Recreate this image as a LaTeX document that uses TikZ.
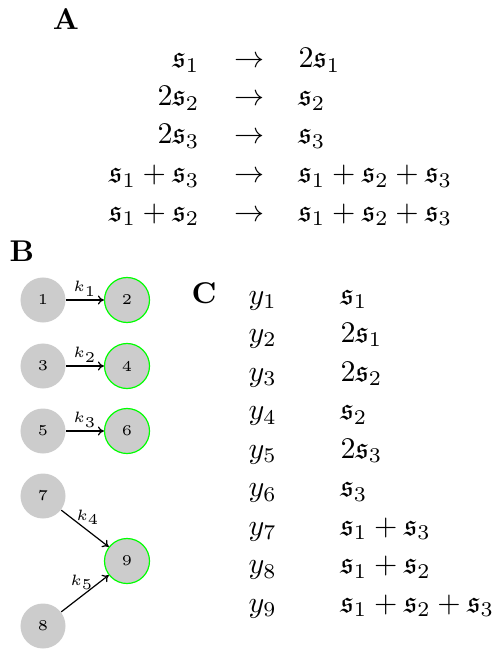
\documentclass[tikz,border=0pt]{standalone}
\usepackage{amsmath,amssymb}
\usetikzlibrary{arrows.meta}
\newcommand{\fs}{\mathfrak{s}}
\begin{document}
\begin{tikzpicture}[x=0.3333pt,y=-0.3333pt,
  panel/.style={font=\bfseries,inner sep=0pt},
  lhs/.style={anchor=base east,inner sep=0pt},
  rhs/.style={anchor=base west,inner sep=0pt},
  arr/.style={anchor=base,inner sep=0pt},
  spc/.style={circle,fill=black!20,minimum size=15pt,inner sep=0pt,font=\tiny},
  prod/.style={spc,draw=green,line width=0.4pt},
  rxn/.style={-{To[length=2pt,width=3pt]},line width=0.4pt},
  klab/.style={font=\tiny,inner sep=1pt}]
\useasboundingbox (0,0) rectangle (498,649);
% panel labels
\node[panel] (pA) at (66,19) {A};
\node[panel] (pB) at (22,251) {B};
\node[panel] (pC) at (204,293) {C};
% panel A
\foreach \i/\yy/\l/\r in {1/68/{\fs_1}/{2\fs_1},
                           2/106/{2\fs_2}/{\fs_2},
                           3/144/{2\fs_3}/{\fs_3},
                           4/183/{\fs_1+\fs_3}/{\fs_1+\fs_2+\fs_3},
                           5/221/{\fs_1+\fs_2}/{\fs_1+\fs_2+\fs_3}}{
  \node[lhs] (al\i) at (200,\yy) {$\l$};
  \node[arr] (aa\i) at (249,\yy) {$\rightarrow$};
  \node[rhs] (ar\i) at (298,\yy) {$\r$};
}
% panel B
\node[spc]  (n1) at (43,300) {1};
\node[prod] (n2) at (127,300) {2};
\node[spc]  (n3) at (43,366) {3};
\node[prod] (n4) at (127,366) {4};
\node[spc]  (n5) at (43,431) {5};
\node[prod] (n6) at (127,431) {6};
\node[spc]  (n7) at (43,496) {7};
\node[prod] (n9) at (127,561) {9};
\node[spc]  (n8) at (43,626) {8};
\draw[rxn] (n1) -- node[klab,above] {$k_1$} (n2);
\draw[rxn] (n3) -- node[klab,above] {$k_2$} (n4);
\draw[rxn] (n5) -- node[klab,above] {$k_3$} (n6);
\draw[rxn] (n7) -- node[klab,above,xshift=1pt] {$k_4$} (n9);
\draw[rxn] (n8) -- node[klab,above,xshift=-1pt] {$k_5$} (n9);
% panel C
\foreach \i/\yy/\e in {1/304/{\fs_1},2/342.5/{2\fs_1},3/381/{2\fs_2},
                       4/419.5/{\fs_2},5/458/{2\fs_3},6/496.5/{\fs_3},
                       7/535/{\fs_1+\fs_3},8/573.5/{\fs_1+\fs_2},
                       9/612/{\fs_1+\fs_2+\fs_3}}{
  \node[rhs] (cy\i) at (248,\yy) {$y_{\i}$};
  \node[rhs] (cs\i) at (340,\yy) {$\e$};
}
\end{tikzpicture}
\end{document}
